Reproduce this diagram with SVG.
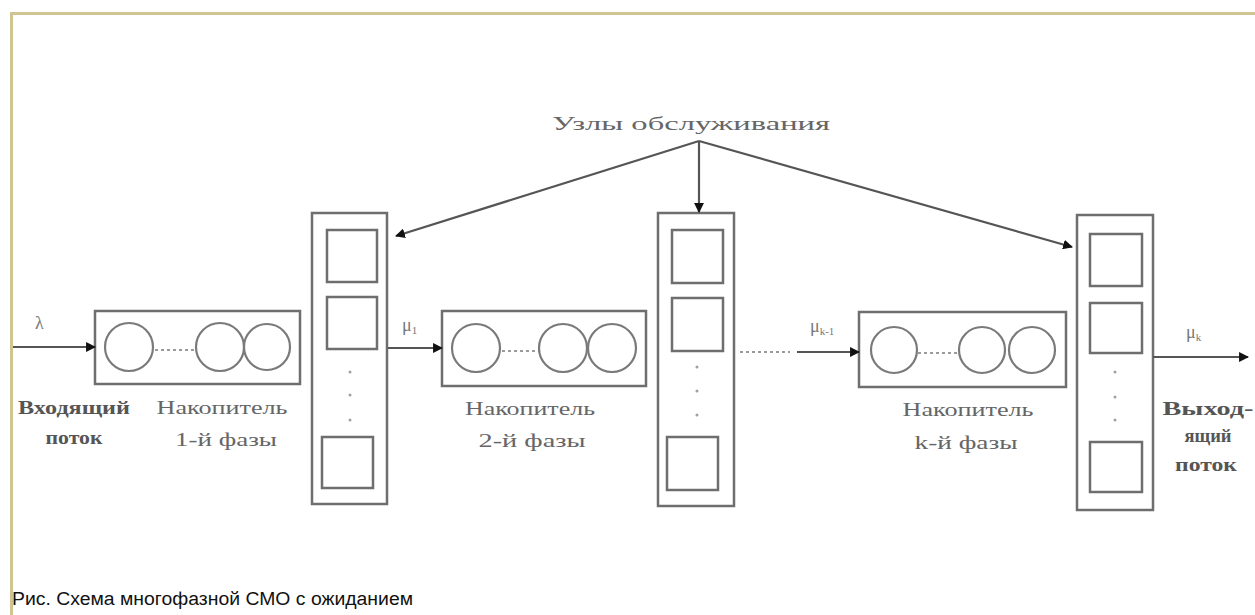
<svg xmlns="http://www.w3.org/2000/svg" width="1255" height="615" viewBox="0 0 1255 615">
<style>
.box{fill:none;stroke:#6e6e6e;stroke-width:2.5}
.sq{fill:none;stroke:#6e6e6e;stroke-width:2.5}
.circ{fill:none;stroke:#7a7a7a;stroke-width:2.2}
.dash{stroke:#9a9a9a;stroke-width:2;stroke-dasharray:3,3}
.dot{fill:#a0a0a0}
.ln{fill:none;stroke:#555;stroke-width:2.2}
.lbl{font-family:"Liberation Serif","DejaVu Serif",serif;font-size:18px;fill:#666;text-anchor:middle}
.bld{font-weight:bold;fill:#555}
.sym{font-family:"Liberation Serif","DejaVu Serif",serif;font-size:18px;fill:#777}
.cap{font-family:"Liberation Sans",Arial,sans-serif;font-size:18px;fill:#111}
</style>
<defs>
<marker id="ah" viewBox="0 0 10 10" refX="9" refY="5" markerWidth="4.5" markerHeight="4.5" orient="auto" markerUnits="strokeWidth">
<path d="M0,0 L10,5 L0,10 z" fill="#111"/>
</marker>
</defs>
<rect width="1255" height="615" fill="#fff"/>
<path d="M11.5,615 V13.5 H1255" fill="none" stroke="#cfc492" stroke-width="3"/>

<text id="title" class="lbl" x="691" y="130" font-size="24" textLength="278" lengthAdjust="spacingAndGlyphs">Узлы обслуживания</text>

<g id="queue1">
<rect class="box" x="95" y="311" width="205" height="73"/>
<circle class="circ" cx="129" cy="347" r="24"/>
<line class="dash" x1="155" y1="350" x2="195" y2="350"/>
<circle class="circ" cx="220" cy="347" r="24"/>
<circle class="circ" cx="267" cy="347" r="23"/>
</g>
<g id="queue2">
<rect class="box" x="442" y="311" width="204" height="75"/>
<circle class="circ" cx="476" cy="348" r="24"/>
<line class="dash" x1="502" y1="351" x2="540" y2="351"/>
<circle class="circ" cx="563" cy="348" r="24"/>
<circle class="circ" cx="612" cy="348" r="24"/>
</g>
<g id="queuek">
<rect class="box" x="859" y="312" width="207" height="75"/>
<circle class="circ" cx="894" cy="350" r="23"/>
<line class="dash" x1="918" y1="353" x2="958" y2="353"/>
<circle class="circ" cx="982" cy="350" r="23"/>
<circle class="circ" cx="1032" cy="350" r="23"/>
</g>

<g id="server1">
<rect class="box" x="312" y="213" width="75" height="291"/>
<rect class="sq" x="327" y="230" width="50" height="52"/>
<rect class="sq" x="327" y="297" width="50" height="52"/>
<circle class="dot" cx="350" cy="372" r="1.5"/>
<circle class="dot" cx="350" cy="395" r="1.5"/>
<circle class="dot" cx="350" cy="420" r="1.5"/>
<rect class="sq" x="322" y="437" width="51" height="51"/>
</g>
<g id="server2">
<rect class="box" x="658" y="213" width="76" height="293"/>
<rect class="sq" x="672" y="230" width="51" height="53"/>
<rect class="sq" x="672" y="298" width="51" height="53"/>
<circle class="dot" cx="697" cy="367" r="1.5"/>
<circle class="dot" cx="697" cy="391" r="1.5"/>
<circle class="dot" cx="697" cy="415" r="1.5"/>
<rect class="sq" x="667" y="437" width="51" height="53"/>
</g>
<g id="serverk">
<rect class="box" x="1077" y="215" width="76" height="295"/>
<rect class="sq" x="1090" y="234" width="52" height="52"/>
<rect class="sq" x="1090" y="303" width="52" height="50"/>
<circle class="dot" cx="1115" cy="372" r="1.5"/>
<circle class="dot" cx="1115" cy="397" r="1.5"/>
<circle class="dot" cx="1115" cy="420" r="1.5"/>
<rect class="sq" x="1090" y="442" width="52" height="50"/>
</g>

<g id="labels">
<text class="lbl bld" x="74" y="414" textLength="112" lengthAdjust="spacingAndGlyphs">Входящий</text>
<text class="lbl bld" x="74" y="444" textLength="57" lengthAdjust="spacingAndGlyphs">поток</text>
<text class="lbl" x="222" y="414" textLength="131" lengthAdjust="spacingAndGlyphs">Накопитель</text>
<text class="lbl" x="226" y="446" textLength="102" lengthAdjust="spacingAndGlyphs">1-й фазы</text>
<text class="lbl" x="530" y="415" textLength="130" lengthAdjust="spacingAndGlyphs">Накопитель</text>
<text class="lbl" x="532" y="447" textLength="107" lengthAdjust="spacingAndGlyphs">2-й фазы</text>
<text class="lbl" x="968" y="416" textLength="131" lengthAdjust="spacingAndGlyphs">Накопитель</text>
<text class="lbl" x="966" y="449" textLength="103" lengthAdjust="spacingAndGlyphs">k-й фазы</text>
<text class="lbl bld" x="1208" y="415" textLength="91" lengthAdjust="spacingAndGlyphs">Выход-</text>
<text class="lbl bld" x="1208" y="442" textLength="47" lengthAdjust="spacingAndGlyphs">ящий</text>
<text class="lbl bld" x="1206" y="471" textLength="62" lengthAdjust="spacingAndGlyphs">поток</text>
<text class="sym" x="35" y="329">λ</text>
<text class="sym" x="402" y="331">μ<tspan font-size="11" dy="3">1</tspan></text>
<text class="sym" x="810" y="332">μ<tspan font-size="11" dy="3">k-1</tspan></text>
<text class="sym" x="1186" y="338">μ<tspan font-size="11" dy="3">k</tspan></text>
</g>

<g id="connectors">
<line class="ln" x1="13" y1="347" x2="95" y2="347" marker-end="url(#ah)"/>
<line class="ln" x1="388" y1="348" x2="442" y2="348" marker-end="url(#ah)"/>
<line class="dash" x1="740" y1="352" x2="790" y2="352"/>
<line class="ln" x1="797" y1="352" x2="859" y2="352" marker-end="url(#ah)"/>
<line class="ln" x1="1153" y1="357" x2="1248" y2="357" marker-end="url(#ah)"/>
<line class="ln" x1="699" y1="141" x2="396" y2="236" marker-end="url(#ah)"/>
<line class="ln" x1="699" y1="141" x2="699" y2="212" marker-end="url(#ah)"/>
<line class="ln" x1="699" y1="141" x2="1072" y2="247" marker-end="url(#ah)"/>
</g>

<text id="caption" class="cap" x="12" y="605" textLength="401" lengthAdjust="spacingAndGlyphs">Рис. Схема многофазной СМО с ожиданием</text>
</svg>
